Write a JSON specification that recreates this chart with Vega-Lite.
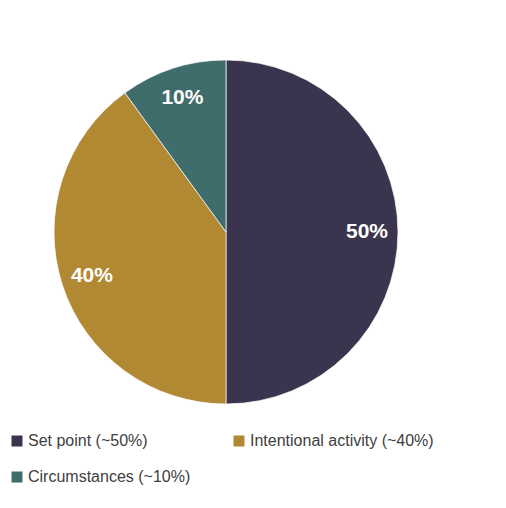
{
  "$schema": "https://vega.github.io/schema/vega-lite/v6.json",
  "width": 452,
  "height": 464,
  "padding": {"left": 0, "top": 0, "right": 54, "bottom": 44},
  "autosize": {"type": "none"},
  "background": "#ffffff",
  "data": {
    "values": [
      {"category": "Set point (~50%)", "value": 50, "label": "50%"},
      {"category": "Intentional activity (~40%)", "value": 40, "label": "40%"},
      {"category": "Circumstances (~10%)", "value": 10, "label": "10%"}
    ]
  },
  "encoding": {
    "theta": {"field": "value", "type": "quantitative", "stack": true},
    "order": {"field": "value", "type": "quantitative", "sort": "descending"},
    "color": {
      "field": "category",
      "type": "nominal",
      "scale": {
        "domain": ["Set point (~50%)", "Intentional activity (~40%)", "Circumstances (~10%)"],
        "range": ["#3A344E", "#B08932", "#3F6D6B"]
      },
      "legend": {
        "orient": "none",
        "legendX": 9,
        "legendY": 433,
        "direction": "horizontal",
        "columns": 2,
        "columnPadding": 40,
        "rowPadding": 20,
        "title": null,
        "symbolType": "square",
        "symbolSize": 121,
        "symbolStrokeWidth": 0,
        "symbolOpacity": 1,
        "labelFont": "Liberation Sans",
        "labelFontSize": 16,
        "labelColor": "#404040",
        "labelOffset": 3,
        "labelLimit": 300
      }
    }
  },
  "layer": [
    {
      "mark": {"type": "arc", "outerRadius": 172, "stroke": "#ffffff", "strokeWidth": 0.7}
    },
    {
      "mark": {
        "type": "text",
        "radius": 141,
        "font": "Liberation Sans",
        "fontSize": 21,
        "fontWeight": "bold",
        "fill": "#ffffff"
      },
      "encoding": {
        "text": {"field": "label", "type": "nominal"},
        "color": {"value": "#ffffff"}
      }
    }
  ],
  "config": {"view": {"stroke": null}}
}
